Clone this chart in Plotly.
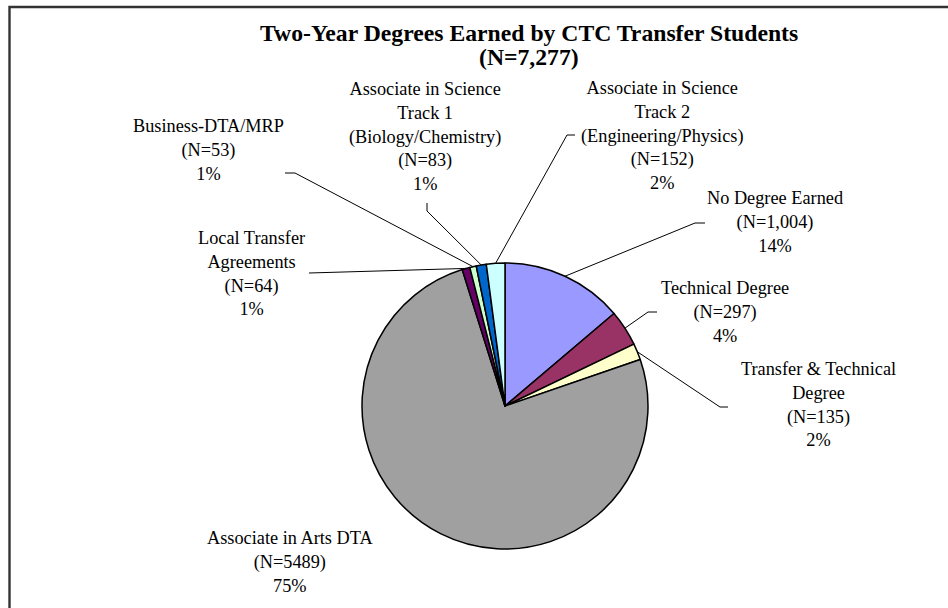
import math
import plotly.graph_objects as go

# ---- data ----
categories = [
    "No Degree Earned",
    "Technical Degree",
    "Transfer & Technical<br>Degree",
    "Associate in Arts DTA",
    "Local Transfer<br>Agreements",
    "Business-DTA/MRP",
    "Associate in Science<br>Track 1<br>(Biology/Chemistry)",
    "Associate in Science<br>Track 2<br>(Engineering/Physics)",
]
counts = [1004, 297, 135, 5489, 64, 53, 83, 152]
n_labels = ["(N=1,004)", "(N=297)", "(N=135)", "(N=5489)", "(N=64)", "(N=53)", "(N=83)", "(N=152)"]
colors = ["#9999FF", "#993366", "#FFFFCC", "#A0A0A0", "#660066", "#CCFFCC", "#0066CC", "#CCFFFF"]
title_lines = ["Two-Year Degrees Earned by CTC Transfer Students", "(N=7,277)"]

# ---- layout constants (screen pixels) ----
W, H = 948, 608
CX, CY, R = 505, 406, 143
FONT = "Times New Roman"
FS = 18.3

# label block centres (x, y of block centre)
label_pos = [
    (775, 222), (725, 312), (818, 405), (290, 562),
    (252, 273), (208, 150), (425, 137), (662, 135),
]
# leader line: start point near label, elbow point (None = straight)
leaders = [
    ((705, 223), (695, 223)),
    ((657, 312), (648, 312)),
    ((728, 407), (720, 407)),
    None,
    ((309, 273), None),
    ((285, 173), (295, 173)),
    ((427, 203), (427, 211)),
    ((575, 135), (567, 135)),
]
title_y = [33, 57]

def px(x):
    return x / W

def py(y):
    return 1 - y / H

total = sum(counts)
pcts = [round(c / total * 100) for c in counts]

fig = go.Figure()
fig.add_trace(go.Pie(
    labels=[c.replace("<br>", " ") for c in categories],
    values=counts,
    sort=False,
    direction="clockwise",
    rotation=0,
    marker=dict(colors=colors, line=dict(color="black", width=1.5)),
    textinfo="none",
    hoverinfo="label+value+percent",
    showlegend=False,
    domain=dict(x=[px(CX - R), px(CX + R)], y=[py(CY + R), py(CY - R)]),
))

annotations = []
shapes = []
for i, (cat, nl, p) in enumerate(zip(categories, n_labels, pcts)):
    lx, ly = label_pos[i]
    annotations.append(dict(
        x=px(lx), y=py(ly), xref="paper", yref="paper",
        text=f"{cat}<br>{nl}<br>{p}%", showarrow=False,
        xanchor="center", yanchor="middle", align="center",
        font=dict(family=FONT, size=FS, color="black"),
    ))
    if leaders[i] is not None:
        cum = sum(counts[:i]) + counts[i] / 2
        ang = cum / total * 2 * math.pi
        ex = CX + R * math.sin(ang)
        ey = CY - R * math.cos(ang)
        start, elbow = leaders[i]
        pts = [start] + ([elbow] if elbow else []) + [(ex, ey)]
        path = "M " + " L ".join(f"{px(a)},{py(b)}" for a, b in pts)
        shapes.append(dict(type="path", path=path, xref="paper", yref="paper",
                           line=dict(color="black", width=1)))

for line, ty in zip(title_lines, title_y):
    annotations.append(dict(
        x=px(529), y=py(ty), xref="paper", yref="paper",
        text="<b>" + line + "</b>", showarrow=False,
        xanchor="center", yanchor="middle", align="center",
        font=dict(family=FONT, size=23.7, color="black"),
    ))

# outer frame (extends beyond the visible area on right/bottom)
shapes.append(dict(type="rect", xref="paper", yref="paper",
                   x0=px(9.5), y0=py(650), x1=px(1000), y1=py(7),
                   line=dict(color="#333333", width=2.4)))

fig.update_layout(
    width=W, height=H,
    margin=dict(l=0, r=0, t=0, b=0),
    paper_bgcolor="white", plot_bgcolor="white",
    annotations=annotations, shapes=shapes,
)
fig.write_html("out.html",
               config={"displayModeBar": False},
               post_script="document.body.style.margin='0';document.body.style.overflow='hidden';")
